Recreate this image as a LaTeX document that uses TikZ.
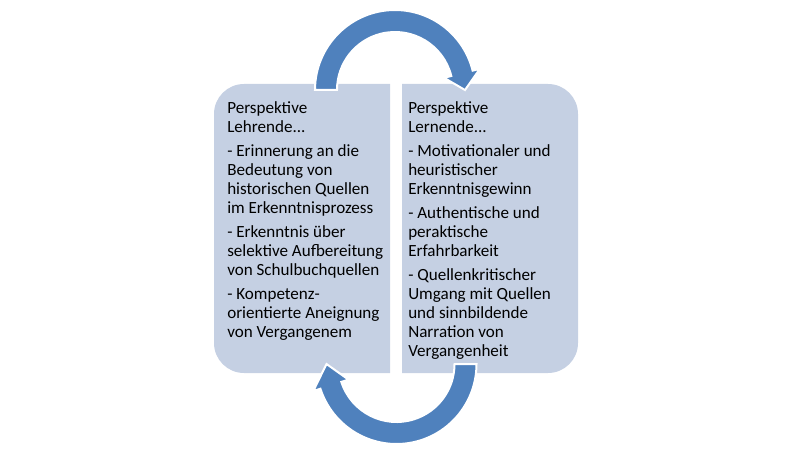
\documentclass[tikz,border=0pt]{standalone}
\usepackage{fontspec}
\setmainfont{Carlito}
\usepackage{tikz}
\usetikzlibrary{positioning}
\definecolor{panelblue}{RGB}{197,208,227}
\definecolor{cycleblue}{RGB}{79,129,189}

\begin{document}
\begin{tikzpicture}[x=0.75pt, y=0.75pt,
  panel/.style={fill=panelblue, draw=none},
  panetext/.style={anchor=north west, inner sep=0pt, align=left,
    font=\fontsize{12.8}{14.25}\selectfont},
  cyclearrow/.style={fill=cycleblue, draw=white, line width=1.5pt, line join=miter}]
\useasboundingbox (0,0) rectangle (792,458);
% two panels, rounded on the outer side only
\fill[panel] (390,85) -- (244,85) arc[start angle=270, end angle=180, radius=30]
  -- (214,344) arc[start angle=180, end angle=90, radius=30] -- (390,374) -- cycle;
\fill[panel] (402,85) -- (548,85) arc[start angle=-90, end angle=0, radius=30]
  -- (578,344) arc[start angle=0, end angle=90, radius=30] -- (402,374) -- cycle;
% upper arrow
\coordinate (topc) at (395,368);
\begin{scope}[shift={(topc)}]
\draw[cyclearrow] (180:80) arc[start angle=180, end angle=14, radius=80]
  -- (14:87.5) -- (0:70) -- (14:50.5) -- (14:58)
  arc[start angle=14, end angle=180, radius=58] -- cycle;
\end{scope}
% lower arrow
\coordinate (botc) at (396.5,94);
\begin{scope}[shift={(botc)}]
\draw[cyclearrow] (0:80) arc[start angle=0, end angle=-162, radius=80]
  -- (-162:87.5) -- (-180:70) -- (-162:50.5) -- (-162:58)
  arc[start angle=-162, end angle=0, radius=58] -- cycle;
\end{scope}
% texts
\node[panetext] (lehrende) at (227,357) {Perspektive\\Lehrende...\\[3.75pt]
- Erinnerung an die\\Bedeutung von\\historischen Quellen\\im Erkenntnisprozess\\[3.75pt]
- Erkenntnis über\\selektive Aufbereitung\\von Schulbuchquellen\\[3.75pt]
- Kompetenz-\\orientierte Aneignung\\von Vergangenem};
\node[panetext] (lernende) at (408,357) {Perspektive\\Lernende...\\[3.75pt]
- Motivationaler und\\heuristischer\\Erkenntnisgewinn\\[3.75pt]
- Authentische und\\peraktische\\Erfahrbarkeit\\[3.75pt]
- Quellenkritischer\\Umgang mit Quellen\\und sinnbildende\\Narration von\\Vergangenheit};
\end{tikzpicture}
\end{document}
